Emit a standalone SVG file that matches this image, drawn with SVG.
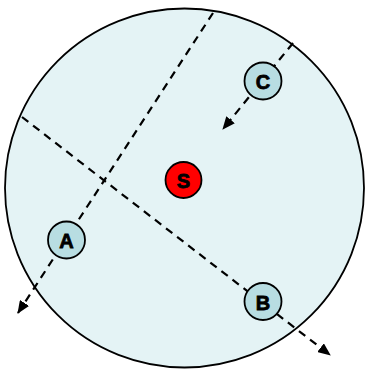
<svg xmlns="http://www.w3.org/2000/svg" width="366" height="371" viewBox="0 0 366 371">
<style>
.bg{fill:#fff}
.disk{fill:#e4f3f5;stroke:#000;stroke-width:1.8}
.node circle{fill:#b8dde2;stroke:#000;stroke-width:1.8}
.node.src circle{fill:#ff0000}
.node text{font-family:"Liberation Sans",Arial,sans-serif;font-weight:bold;font-size:20px;text-anchor:middle;dominant-baseline:central;fill:#000;stroke:#000;stroke-width:0.8}
.edge{stroke:#000;stroke-width:2.2;stroke-dasharray:8,6;fill:none}
</style>
<defs>
<marker id="arr" viewBox="0 0 13 11" refX="12" refY="5.5" markerWidth="13" markerHeight="11" markerUnits="userSpaceOnUse" orient="auto">
<path d="M0,0 L13,5.5 L0,11 Z" fill="#000"/>
</marker>
</defs>
<rect class="bg" width="366" height="371"/>
<circle class="disk" cx="184.5" cy="188" r="179.5"/>
<g id="connectors">
<line class="edge" x1="213" y1="13" x2="18" y2="313" marker-end="url(#arr)"/>
<line class="edge" x1="22" y1="117" x2="330" y2="355" marker-end="url(#arr)"/>
<line class="edge" x1="293" y1="43" x2="223" y2="129" marker-end="url(#arr)"/>
</g>
<g id="S" class="node src"><circle cx="183.5" cy="180" r="18"/><text x="183.5" y="181">S</text></g>
<g id="C" class="node"><circle cx="263" cy="81" r="18.5"/><text x="263" y="82">C</text></g>
<g id="A" class="node"><circle cx="66.5" cy="240" r="18.5"/><text x="66.5" y="241">A</text></g>
<g id="B" class="node"><circle cx="263" cy="301.5" r="18.5"/><text x="263" y="302.5">B</text></g>
</svg>
